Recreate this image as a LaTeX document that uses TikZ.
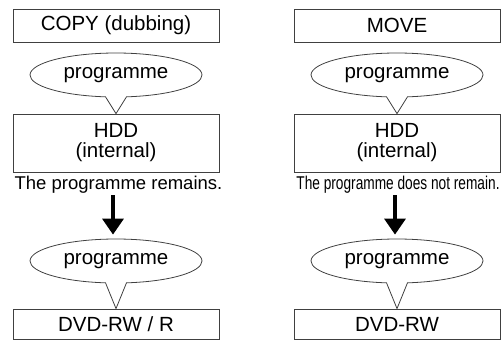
\documentclass[tikz,border=0pt]{standalone}
\usepackage{fontspec}
\usepackage{graphicx}
\setmainfont{Liberation Sans}
\usetikzlibrary{positioning,shapes.geometric,shapes.callouts,arrows.meta}

\tikzset{
  medium/.style={draw=black!75,line width=0.8pt,minimum width=206pt,inner sep=0pt,align=center},
  bubble/.style={ellipse callout,draw=black!75,line width=0.8pt,minimum width=172pt,
    minimum height=44pt,inner sep=0pt,callout pointer arc=14},
  note/.style={font=\fontsize{18.5}{20}\selectfont,inner sep=0pt,anchor=base},
  bigarrow/.style={line width=3.5pt,-{Triangle[width=21pt,length=16pt]}}
}

\begin{document}
\begin{tikzpicture}[x=1pt,y=-1pt,font=\fontsize{20.5}{20}\selectfont]
  \useasboundingbox (0,0) rectangle (502,343);

  % COPY column.
  \node[medium,minimum height=33pt] (copy) at (116,25.5) {COPY (dubbing)};
  \node[medium,minimum height=58pt] (hddL) at (116,143) {HDD\\(internal)};
  \node[bubble,callout absolute pointer={(hddL.north)}] (progL) at (116,75) {programme};
  \node[note] (remL) at (118.5,189) {The programme remains.};
  \node[medium,minimum height=30pt] (dvdL) at (116,324) {DVD-RW / R};
  \node[bubble,callout absolute pointer={(dvdL.north)}] (progLL) at (116,261) {programme};
  \draw[bigarrow] ([xshift=-5.5pt,yshift=-2pt]remL.south) -- ([xshift=-3pt,yshift=4pt]progLL.north);

  % MOVE column.
  \node[medium,minimum height=33pt] (move) at (397,25.5) {MOVE};
  \node[medium,minimum height=58pt] (hddR) at (397,143) {HDD\\(internal)};
  \node[bubble,callout absolute pointer={(hddR.north)}] (progR) at (397,75) {programme};
  \node[note] (remR) at (398,189) {\scalebox{0.74}[1]{The programme does not remain.}};
  \node[medium,minimum height=30pt] (dvdR) at (397,324) {DVD-RW};
  \node[bubble,callout absolute pointer={(dvdR.north)}] (progRR) at (397,261) {programme};
  \draw[bigarrow] ([xshift=-3pt,yshift=-2pt]remR.south) -- ([xshift=-2pt,yshift=4pt]progRR.north);
\end{tikzpicture}
\end{document}
